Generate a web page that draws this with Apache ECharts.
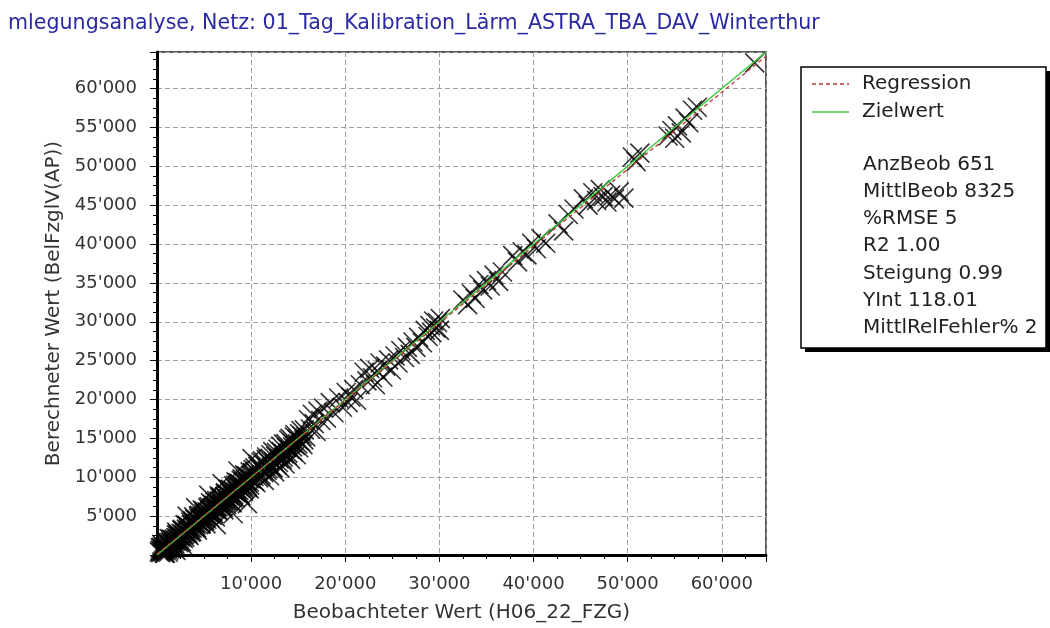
<!DOCTYPE html>
<html>
<head>
<meta charset="utf-8">
<title>Umlegungsanalyse</title>
<script src="https://cdn.jsdelivr.net/npm/echarts@6/dist/echarts.min.js"></script>
<style>
  html, body { margin: 0; padding: 0; background: #fff; }
  #chart { width: 1050px; height: 628px; }
</style>
</head>
<body>
<div id="chart"></div>
<script>
// Beobachtet / Berechnet, 0 - 10'000 (dichter Bereich)
const punkteNiedrig = [
  [250,380],[320,610],[410,300],[480,520],[560,820],[640,450],[700,760],[790,600],[860,1050],[930,780],
  [1010,1120],[1080,900],[1150,1380],[1230,1040],[1310,1290],[1380,1650],[1460,1230],[1540,1580],[1620,1420],[1700,1910],
  [1770,1560],[1850,2050],[1930,1760],[2010,2240],[2090,1880],[2160,2150],[2240,2510],[2320,2070],[2400,2460],[2480,2290],
  [2560,2800],[2630,2410],[2710,2690],[2790,3050],[2870,2620],[2950,3010],[3030,2790],[3110,3320],[3190,2960],[3260,3250],
  [3340,3610],[3420,3180],[3500,3540],[3580,3330],[3660,3900],[3740,3470],[3810,3760],[3890,4170],[3970,3690],[4050,4080],
  [4130,3860],[4210,4450],[4290,4020],[4360,4350],[4440,4720],[4520,4240],[4600,4630],[4680,4410],[4760,4990],[4840,4560],
  [4910,4880],[4990,5300],[5070,4790],[5150,5190],[5230,4960],[5310,5560],[5390,5100],[5460,5430],[5540,5850],[5620,5330],
  [5700,5730],[5780,5490],[5860,6090],[5940,5630],[6010,5980],[6090,6400],[6170,5880],[6250,6280],[6330,6010],[6410,6660],
  [6490,6170],[6560,6520],[6640,6950],[6720,6420],[6800,6830],[6880,6580],[6960,7220],[7040,6710],[7110,7080],[7190,7510],
  [7270,6960],[7350,7360],[7430,7120],[7510,7780],[7590,7240],[7660,7630],[7740,8060],[7820,7480],[7900,7920],[7980,7650],
  [8060,8330],[8140,7780],[8210,8180],[8290,8620],[8370,8030],[8450,8460],[8530,8190],[8610,8880],[8690,8320],[8760,8730],
  [8840,9170],[8920,8550],[9000,9010],[9080,8720],[9160,9440],[9240,8850],[9310,9280],[9390,9720],[9470,9100],[9550,9560],
  [9630,9260],[9710,9990],[9790,9390],[9860,9830],[9940,10250],
  [350,900],[650,1100],[800,200],[1100,1700],[1400,800],[1600,2000],[1900,1400],[2200,2700],[2300,1600],[2700,3300],
  [2800,2100],[3150,3750],[3300,2700],[3600,4250],[3700,3000],[4000,4600],[4200,3500],[4500,5100],[4650,3950],[4950,5600],
  [5100,4400],[5400,6100],[5600,4800],[5900,6500],[6050,5300],[6350,7000],[6500,5700],[6800,7500],[7000,6100],[7300,8000],
  [7400,6500],[7700,8400],[7850,6900],[8150,8900],[8300,7400],[8600,9300],[8800,7800],[9050,9800],[9200,8200],[9500,10200],
  [9650,8700],[9900,10700],
  [450,1000],[750,350],[1050,1600],[1250,650],[1500,2050],[1800,1200],[2050,2600],[2400,1800],[2650,3200],[2950,2300],
  [3250,3800],[3550,2950],[3800,4400],[4100,3550],[4400,5000],[4700,4050],[5000,5650],[5300,4600],[5550,6200],[5850,5100],
  [6150,6800],[6400,5750],[6700,7350],[6950,6300],[7250,7900],[7550,6850],[7800,8450],[8050,7350],[8350,9000],[8650,7900],
  [8950,9600],[9250,8500],[9550,10100],[9850,9000],
  [500,1350],[900,250],[1300,2100],[1700,950],[2100,2950],[2600,1700],[3000,3900],[3400,2500],[3900,4900],[4300,3200],
  [4800,5800],[5200,4000],[5700,6700],[6200,4900],[6600,7600],[7100,5800],[7500,8500],[8000,6700],[8400,9400],[8900,7600],
  [9300,10300],[9800,8500],
  [1200,350],[2000,600],[2900,1100],[3200,5000],[4100,6100],[5500,7700],[6300,3900],[6900,9200],[8100,5300],[8600,10800],
  [9600,6600],[10100,12400]
]

// 10'000 - 16'000
const punkteMittel = [
  [10050,9800],[10150,10600],[10300,10100],[10400,11200],[10500,9300],[10600,10500],[10750,11700],[10800,9900],[10950,11100],[11050,10300],
  [11200,12100],[11300,10800],[11400,9600],[11500,11500],[11650,12600],[11700,10900],[11850,11900],[11950,10200],[12050,12400],[12150,11300],
  [12300,13300],[12400,12000],[12500,10700],[12600,12700],[12750,11600],[12850,13600],[12950,12400],[13050,11200],[13200,13300],[13300,12300],
  [13450,14300],[13500,13000],[13600,11700],[13750,13800],[13850,12800],[14000,14800],[14100,13600],[14200,12300],[14350,14400],[14450,13300],
  [14600,15200],[14700,14100],[14800,12900],[14900,14900],[15050,13800],[15150,15600],[15250,14600],[15400,15300],[15500,14200],[15650,16100],
  [15800,15200],
  [10200,11000],[10350,9500],[10700,11400],[10900,10100],[11100,11900],[11350,10600],[11600,12300],[11800,11100],[12100,12900],[12350,11200],
  [12700,13200],[12900,11900],[13150,14000],[13400,12600],[13700,14300],[13900,13100],[14150,15000],[14400,13900],[14650,15500],[14950,14300],
  [15300,16000],[15600,14800]
]

// > 16'000
const punkteHoch = [
  [16100,17400],[16300,16200],[16500,18100],[16700,16900],[16900,15900],[17100,18500],[17400,17300],[17700,18900],[18000,17600],[18400,19600],
  [18800,18300],[19300,20200],[19700,19000],[20100,20900],[20300,19600],[20600,20300],[20900,21300],[21200,19900],[21600,21900],[22000,23500],
  [22300,22400],[22600,24000],[22900,22800],[23200,21900],[23400,23700],[23700,24700],[24000,22900],[24300,24300],[24600,25100],[24900,23800],
  [25300,25600],[25600,24700],[25900,26300],[26300,25400],[26600,26700],[26900,25800],[27200,27400],[27500,26700],[27800,28000],[28200,27300],
  [28500,28900],[28800,28100],[29000,29500],[29200,28600],[29400,30100],[29600,29200],[29800,29900],[30000,28900],[30100,30400],
  [32500,32800],[33000,32200],[33400,33600],[33800,33000],[34200,34800],[34600,34100],[35000,35300],[35400,34600],[35800,36000],[36300,35200],
  [36700,36400],
  [37800,38500],[38300,37700],[38800,39000],[39300,38600],[39800,40100],[40300,39400],[40800,40700],[41300,40100],
  [42600,42600],[43200,41700],[43700,43800],[44300,44500],
  [45300,45800],[45800,45000],[46300,46600],[46700,45600],[47100,47000],[47400,46100],[47800,45400],[48200,46300],[48600,45800],[49100,46700],
  [49600,45900],
  [50500,51200],[50900,50600],[51300,51700],
  [54300,53900],[54700,54600],[55000,53600],[55300,55200],[55700,54300],[56100,56200],[56500,55600],[56900,57200],[57400,57600],
  [63500,63300]
]

// Linien (Endpunkte)
const regressionX = [0, 64700]
const regressionY = [118, 64171]
const zielwertX = [0, 64700]
const zielwertY = [0, 64700]

const legendeNamen = ['Regression', 'Zielwert']
const legendeFarben = ['#c03838', '#3cc83c']

const statistik = [
  'AnzBeob 651',
  'MittlBeob 8325',
  '%RMSE 5',
  'R2 1.00',
  'Steigung 0.99',
  'YInt 118.01',
  'MittlRelFehler% 2'
]

const titel = 'mlegungsanalyse, Netz: 01_Tag_Kalibration_Lärm_ASTRA_TBA_DAV_Winterthur'
const achseMax = 64700
const font = 'DejaVu Sans'

/* Tausender mit Apostroph, nur volle Intervalle beschriften */
const fmt = step => v => {
  if (v === 0 || v % step !== 0) return ''
  return String(v).replace(/\B(?=(\d{3})+(?!\d))/g, "'")
}

const achse = (name, step, gap) => ({
  type: 'value',
  min: 0,
  max: achseMax,
  interval: step,
  name,
  nameLocation: 'middle',
  nameGap: gap,
  nameTextStyle: { fontSize: 20, color: '#333', fontFamily: font },
  axisLine: { onZero: false, lineStyle: { color: '#000', width: 3 } },
  axisTick: { length: 7, lineStyle: { color: '#000', width: 1 } },
  minorTick: { show: true, splitNumber: 4, length: 4, lineStyle: { color: '#000', width: 1 } },
  axisLabel: { margin: 20, fontSize: 18, color: '#333', fontFamily: font, formatter: fmt(step) },
  splitLine: { show: true, lineStyle: { color: '#a0a0a0', width: 1, type: [5, 3] } }
})

/* Legendenkasten mit Schatten + Texte */
const kasten = { x: 801, y: 67, w: 245, h: 281 }
const legendeGrafik = [
  { type: 'rect', z: 0, shape: { x: kasten.x + 4, y: kasten.y + 4, width: kasten.w, height: kasten.h }, style: { fill: '#000' } },
  { type: 'rect', z: 1, shape: { x: kasten.x, y: kasten.y, width: kasten.w, height: kasten.h }, style: { fill: '#fff', stroke: '#000', lineWidth: 1.5 } }
]
legendeNamen.forEach((n, i) => {
  const y = 84 + i * 28
  legendeGrafik.push({
    type: 'line', z: 2,
    shape: { x1: 812, y1: y, x2: 849, y2: y },
    style: { stroke: legendeFarben[i], lineWidth: 1.5, lineDash: i === 0 ? [4, 3] : null }
  })
  legendeGrafik.push({
    type: 'text', z: 2, x: 862, y,
    style: { text: n, font: '20px "DejaVu Sans"', fill: '#222', verticalAlign: 'middle' }
  })
})
legendeGrafik.push({
  type: 'text', z: 2, x: 863, y: 151,
  style: { text: statistik.join('\n'), font: '20px "DejaVu Sans"', lineHeight: 27.2, fill: '#222' }
})

const chart = echarts.init(document.getElementById('chart'))

chart.setOption({
  animation: false,
  backgroundColor: '#fff',
  title: {
    text: titel,
    left: 8,
    top: 13,
    padding: 0,
    textStyle: { fontSize: 20.6, fontWeight: 'normal', color: '#2a2aa0', fontFamily: font }
  },
  grid: {
    left: 157, right: 284, top: 52, bottom: 73,
    show: true, borderColor: '#222', borderWidth: 1.5
  },
  xAxis: achse('Beobachteter Wert (H06_22_FZG)', 10000, 48),
  yAxis: achse('Berechneter Wert (BelFzglV(AP))', 5000, 86),
  graphic: legendeGrafik,
  series: [
    {
      name: 'Beobachtungen',
      type: 'scatter',
      silent: true,
      symbol: 'path://M0,0L10,10M10,0L0,10',
      symbolSize: 19,
      itemStyle: { color: 'rgba(0,0,0,0)', borderColor: '#000', borderWidth: 1.6 },
      data: [...punkteNiedrig, ...punkteMittel, ...punkteHoch]
    },
    {
      name: legendeNamen[1],
      type: 'line',
      symbol: 'none',
      silent: true,
      lineStyle: { color: legendeFarben[1], width: 1.5 },
      data: zielwertX.map((x, i) => [x, zielwertY[i]])
    },
    {
      name: legendeNamen[0],
      type: 'line',
      symbol: 'none',
      silent: true,
      lineStyle: { color: legendeFarben[0], width: 1.3, type: [4, 3] },
      data: regressionX.map((x, i) => [x, regressionY[i]])
    }
  ]
})
</script>
</body>
</html>
